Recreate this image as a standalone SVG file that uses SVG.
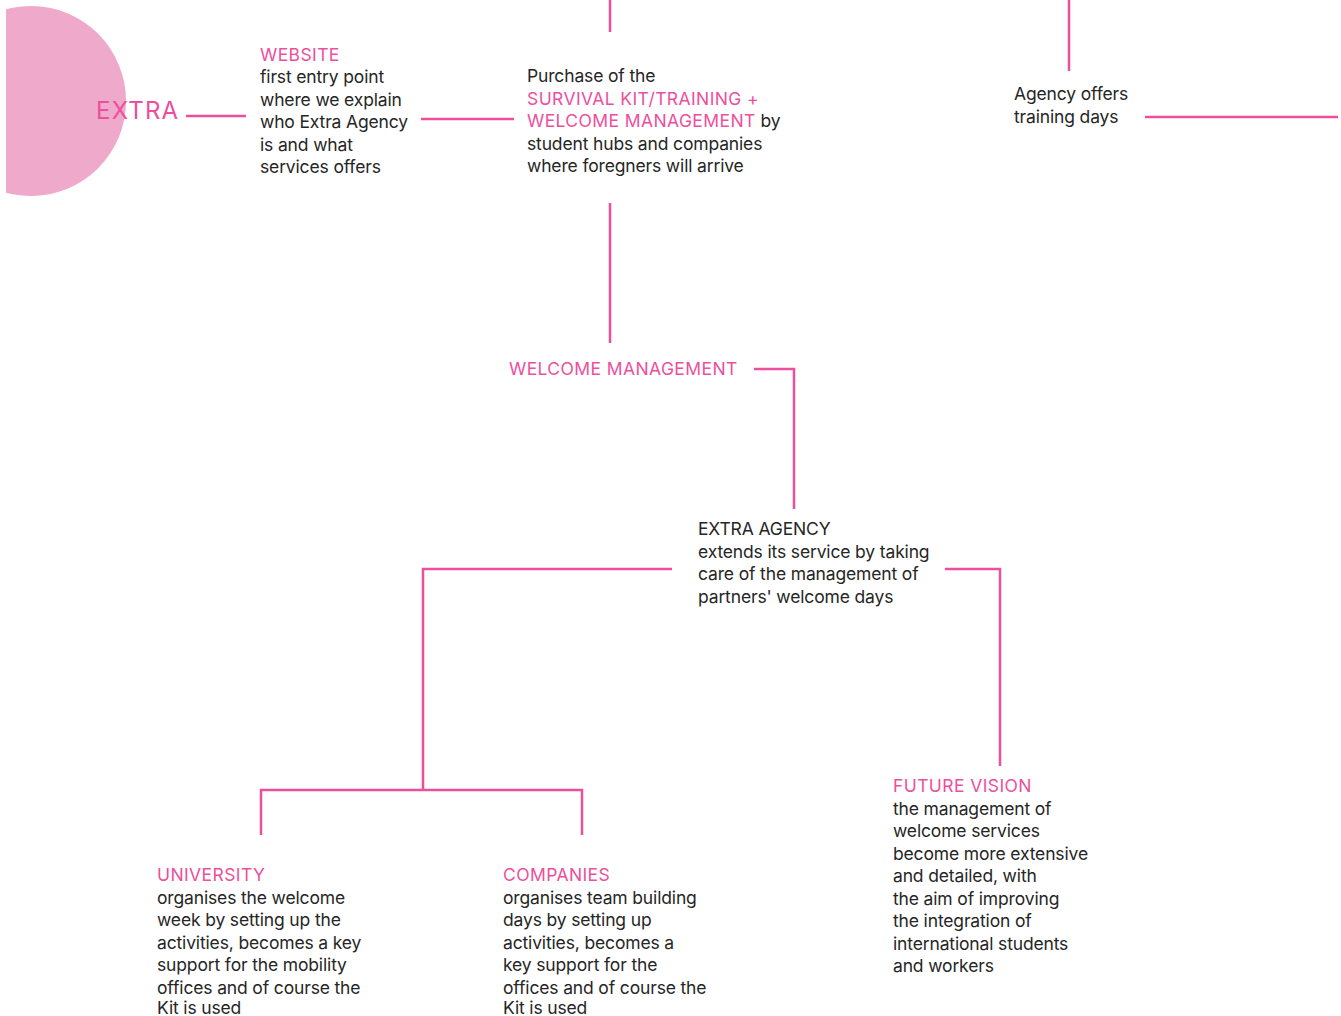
<svg xmlns="http://www.w3.org/2000/svg" width="1341" height="1016" viewBox="0 0 1341 1016">
  <defs>
    <style>
      .t { font-family: Inter, "Noto Sans", "Liberation Sans", sans-serif; font-size: 17.5px; fill: #262626; letter-spacing: -0.15px; }
      .h { fill: #ec4f9c; letter-spacing: 0.4px; }
      .big { font-family: Inter, "Noto Sans", "Liberation Sans", sans-serif; font-size: 24px; fill: #ec4f9c; letter-spacing: 1.2px; }
      .c { stroke: #ec4f9c; stroke-width: 2.5; fill: none; }
    </style>
    <clipPath id="cut"><rect x="6" y="0" width="200" height="220"/></clipPath>
  </defs>
  <rect width="1341" height="1016" fill="#ffffff"/>

  <!-- half disc behind the brand word -->
  <g id="extra">
    <circle cx="31" cy="101" r="95" fill="#efa9ca" clip-path="url(#cut)"/>
    <text class="big" x="96" y="119">EXTRA</text>
  </g>

  <g id="connectors">
    <path class="c" d="M610 0 V32"/>
    <path class="c" d="M186 116 H246"/>
    <path class="c" d="M421 119 H514"/>
    <path class="c" d="M610 203 V343"/>
    <path class="c" d="M1069 0 V71"/>
    <path class="c" d="M1145 117 H1338"/>
    <path class="c" d="M754 369 H794 V509"/>
    <path class="c" d="M672 569 H423 V790"/>
    <path class="c" d="M261 835 V790 H582 V835"/>
    <path class="c" d="M945 569 H1000 V766"/>
  </g>

  <g id="website">
    <text class="t" x="260">
      <tspan class="h" x="260" y="61">WEBSITE</tspan>
      <tspan x="260" y="83">first entry point</tspan>
      <tspan x="260" y="105.5">where we explain</tspan>
      <tspan x="260" y="128">who Extra Agency</tspan>
      <tspan x="260" y="150.5">is and what</tspan>
      <tspan x="260" y="173">services offers</tspan>
    </text>
  </g>

  <g id="purchase">
    <text class="t">
      <tspan x="527" y="82">Purchase of the</tspan>
      <tspan class="h" x="527" y="104.5">SURVIVAL KIT/TRAINING +</tspan>
      <tspan x="527" y="127"><tspan class="h">WELCOME MANAGEMENT</tspan> by</tspan>
      <tspan x="527" y="149.5">student hubs and companies</tspan>
      <tspan x="527" y="172">where foregners will arrive</tspan>
    </text>
  </g>

  <g id="training">
    <text class="t">
      <tspan x="1014" y="100">Agency offers</tspan>
      <tspan x="1014" y="122.5">training days</tspan>
    </text>
  </g>

  <g id="welcome-management">
    <text class="t h" x="509" y="375">WELCOME MANAGEMENT</text>
  </g>

  <g id="extra-agency">
    <text class="t">
      <tspan x="698" y="535">EXTRA AGENCY</tspan>
      <tspan x="698" y="557.5">extends its service by taking</tspan>
      <tspan x="698" y="580">care of the management of</tspan>
      <tspan x="698" y="602.5">partners' welcome days</tspan>
    </text>
  </g>

  <g id="university">
    <text class="t">
      <tspan class="h" x="157" y="881">UNIVERSITY</tspan>
      <tspan x="157" y="903.5">organises the welcome</tspan>
      <tspan x="157" y="926">week by setting up the</tspan>
      <tspan x="157" y="948.5">activities, becomes a key</tspan>
      <tspan x="157" y="971">support for the mobility</tspan>
      <tspan x="157" y="993.5">offices and of course the</tspan>
      <tspan x="157" y="1014">Kit is used</tspan>
    </text>
  </g>

  <g id="companies">
    <text class="t">
      <tspan class="h" x="503" y="881">COMPANIES</tspan>
      <tspan x="503" y="903.5">organises team building</tspan>
      <tspan x="503" y="926">days by setting up</tspan>
      <tspan x="503" y="948.5">activities, becomes a</tspan>
      <tspan x="503" y="971">key support for the</tspan>
      <tspan x="503" y="993.5">offices and of course the</tspan>
      <tspan x="503" y="1014">Kit is used</tspan>
    </text>
  </g>

  <g id="future-vision">
    <text class="t">
      <tspan class="h" x="893" y="792">FUTURE VISION</tspan>
      <tspan x="893" y="814.5">the management of</tspan>
      <tspan x="893" y="837">welcome services</tspan>
      <tspan x="893" y="859.5">become more extensive</tspan>
      <tspan x="893" y="882">and detailed, with</tspan>
      <tspan x="893" y="904.5">the aim of improving</tspan>
      <tspan x="893" y="927">the integration of</tspan>
      <tspan x="893" y="949.5">international students</tspan>
      <tspan x="893" y="972">and workers</tspan>
    </text>
  </g>
</svg>
